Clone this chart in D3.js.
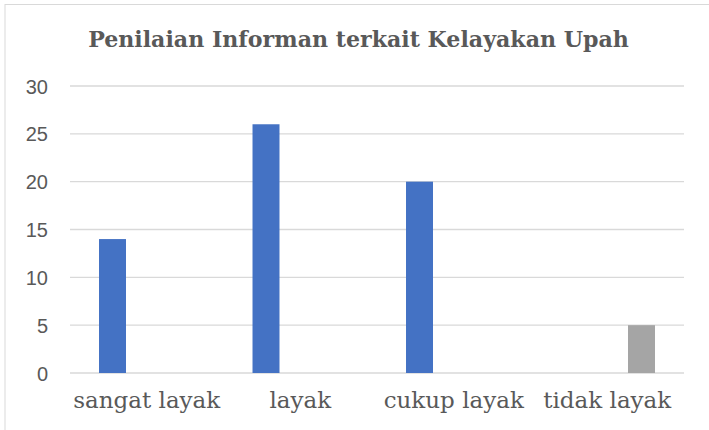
<!DOCTYPE html>
<html><head><meta charset="utf-8">
<script src="https://cdn.jsdelivr.net/npm/d3@7"></script>
<style>html,body{margin:0;padding:0;background:#fff;}</style>
</head><body>
<svg id="c" width="709" height="430"></svg>
<script>
const title = "Penilaian Informan terkait Kelayakan Upah";
const categories = ["sangat layak", "layak", "cukup layak", "tidak layak"];
const seriesNames = ["Seri 1", "Seri 2"];
const series1 = [14, 26, 20, 0];
const series2 = [0, 0, 0, 5];
const yTicks = [0, 5, 10, 15, 20, 25, 30];
const colors = ["#4472C4", "#A5A5A5"];

(function () {
const svg = d3.select("#c");
const mLeft = 70, mRight = 684, mTop = 86, mBottom = 373;

svg.append("rect").attr("x", 5).attr("y", 4.5).attr("width", 740).attr("height", 460)
  .attr("fill", "#fff").attr("stroke", "#d9d9d9").attr("stroke-width", 1);

const y = d3.scaleLinear().domain([0, 30]).range([mBottom, mTop]);
const x0 = d3.scaleBand().domain(categories).range([mLeft, mRight]).paddingInner(0.378).paddingOuter(0.189);
const x1 = d3.scaleBand().domain(seriesNames).range([0, x0.bandwidth()]).paddingInner(0.606).paddingOuter(0);

// gridlines
svg.append("g").selectAll("line").data(yTicks).join("line")
  .attr("x1", mLeft).attr("x2", mRight)
  .attr("y1", d => y(d)).attr("y2", d => y(d))
  .attr("stroke", "#d9d9d9").attr("stroke-width", 1.3);

// y axis labels
const yAxis = d3.axisLeft(y).tickValues(yTicks).tickSize(0).tickPadding(0);
const gy = svg.append("g").attr("transform", "translate(48,0)").call(yAxis);
gy.select(".domain").remove();
gy.selectAll("text").attr("font-family", "'Liberation Sans', Arial, sans-serif")
  .attr("font-size", "20px").attr("fill", "#595959").attr("dy", "0.35em");

// bars
const data = categories.map((c, i) => ({cat: c, vals: [series1[i], series2[i]]}));
const groups = svg.append("g").selectAll("g").data(data).join("g")
  .attr("transform", d => `translate(${x0(d.cat)},0)`);
groups.selectAll("rect").data(d => d.vals.map((v, j) => ({s: seriesNames[j], v, j})))
  .join("rect")
  .attr("x", d => x1(d.s)).attr("width", x1.bandwidth())
  .attr("y", d => y(d.v)).attr("height", d => y(0) - y(d.v))
  .attr("fill", d => colors[d.j]);

// x axis labels
const xAxis = d3.axisBottom(x0).tickSize(0).tickPadding(0);
const gx = svg.append("g").attr("transform", `translate(0,${mBottom})`).call(xAxis);
gx.select(".domain").remove();
gx.selectAll("text").attr("font-family", "'DejaVu Serif', serif")
  .attr("font-size", "23px").attr("fill", "#595959").attr("dy", null).attr("y", 35);

// title
const t = svg.append("text").attr("x", 358.5).attr("y", 47).attr("text-anchor", "middle")
  .attr("font-family", "'DejaVu Serif', serif").attr("font-weight", "bold")
  .attr("font-size", "21px").attr("fill", "#595959").text(title);
const w = t.node().getComputedTextLength();
t.attr("font-size", (21 * 541 / w).toFixed(2) + "px");
})();
</script>
</body></html>
